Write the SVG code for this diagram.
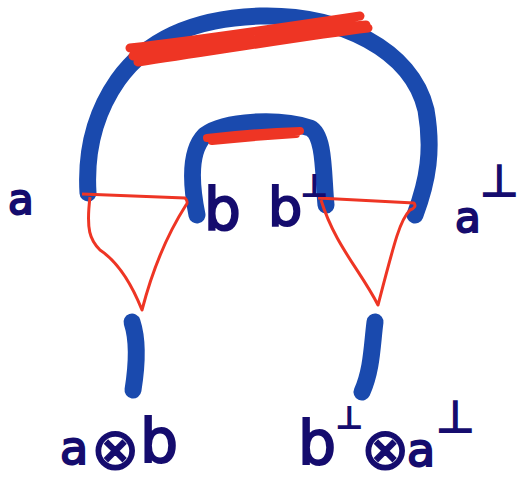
<svg xmlns="http://www.w3.org/2000/svg" width="528" height="483" viewBox="0 0 528 483">
<style>
.blue{fill:none;stroke:#1a4aae;stroke-width:17;stroke-linecap:round;stroke-linejoin:round}
.red{fill:none;stroke:#ee3524;stroke-linecap:round;stroke-linejoin:round}
.tri{fill:none;stroke:#ee3524;stroke-width:3;stroke-linejoin:round}
.lbl{font-family:"DejaVu Sans",sans-serif;fill:#150c6e;stroke:#150c6e;stroke-width:2}
.op{font-family:"DejaVu Sans",sans-serif;fill:#150c6e;stroke:#150c6e;stroke-width:1.5;font-size:58px}
</style>
<rect width="528" height="483" fill="#fff"/>
<g id="connectors">
<path class="blue" d="M88,193 C86,160 90,120 118,80 C150,35 200,18 260,16 C340,14 412,50 426,110 C433,150 428,180 415,215"/>
<path class="blue" d="M197,215 C190,180 190,150 205,135 C225,120 280,118 310,128 C325,135 323,175 326,205"/>
<path class="red" stroke-width="9" d="M130,48 C200,40 300,25 360,16 M133,56 C220,45 300,30 366,25 M138,62 C220,50 310,35 368,28"/>
<path class="red" stroke-width="8" d="M207,138 C240,134 270,132 300,131 M212,141 C250,137 280,135 296,134"/>
<path class="tri" d="M82,194 L185,198 C187,200 188,203 186,205 C170,230 155,260 142,310 C130,280 115,260 100,250 C90,240 86,230 90,197"/>
<path class="tri" d="M318,198 L414,203 C416,206 415,208 410,210 C400,220 395,240 378,305 C360,270 335,245 321,200"/>
<path class="blue" d="M132,322 C138,340 137,365 133,390"/>
<path class="blue" d="M375,322 C372,345 372,370 362,392"/>
</g>
<g id="label-a"><text class="lbl" x="8" y="214" font-size="42">a</text></g>
<g id="label-b"><text class="lbl" x="204" y="230" font-size="58">b</text></g>
<g id="label-bperp"><text class="lbl" x="268" y="226" font-size="54">b</text><text class="lbl" x="301" y="196" font-size="30">⊥</text></g>
<g id="label-aperp"><text class="lbl" x="455" y="232" font-size="42">a</text><text class="lbl" x="480" y="196" font-size="44">⊥</text></g>
<g id="label-atensorb"><text class="lbl" x="60" y="464" font-size="46">a</text><text class="op" x="91" y="469">⊗</text><text class="lbl" x="140" y="462" font-size="60">b</text></g>
<g id="label-bperptensoraperp"><text class="lbl" x="298" y="464" font-size="60">b</text><text class="lbl" x="336" y="428" font-size="30">⊥</text><text class="op" x="361" y="469">⊗</text><text class="lbl" x="407" y="466" font-size="46">a</text><text class="lbl" x="436" y="432" font-size="44">⊥</text></g>
</svg>
